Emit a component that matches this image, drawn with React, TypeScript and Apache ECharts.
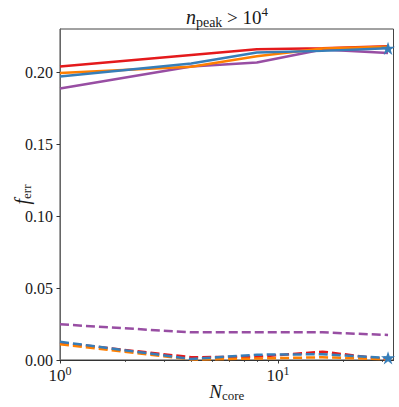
import React, { useEffect, useRef } from 'react';
import * as echarts from 'echarts';

// N_core values (x)
const cores = [1, 4, 8, 16, 32];

// solid lines (upper group)
const solidPurple = [0.1887, 0.204, 0.2067, 0.2157, 0.2134];
const solidRed = [0.204, 0.212, 0.216, 0.2167, 0.218];
const solidOrange = [0.1995, 0.2037, 0.211, 0.2164, 0.2176];
const solidBlue = [0.197, 0.206, 0.2137, 0.2148, 0.2166];

// dashed lines (lower group)
const dashPurple = [0.0248, 0.0192, 0.0192, 0.0192, 0.0174];
const dashRed = [0.012, 0.0019, 0.0023, 0.0058, 0.0003];
const dashOrange = [0.011, 0.0003, 0.001, 0.0019, 0.0005];
const dashBlue = [0.0127, 0.0007, 0.0037, 0.004, 0.0015];

// ticks
const yTicks = [0, 0.05, 0.1, 0.15, 0.2];
const xMajorTicks = [1, 10];
const xMinorTicks = [2, 3, 4, 5, 6, 7, 8, 9, 20, 30];

const COLORS = {
  purple: '#984ea3',
  red: '#e41a1c',
  orange: '#ff7f00',
  blue: '#377eb8',
};

const STAR =
  'path://M50,0 L61.2,34.5 L97.6,34.5 L68.2,55.9 L79.4,90.5 L50,69.1 L20.6,90.5 L31.8,55.9 L2.4,34.5 L38.8,34.5 Z';

const FONT = "'Liberation Serif', serif";
const TXT = '#1a1a1a';

function mk(values: number[], color: string, dashed: boolean, star: boolean) {
  const last = values.length - 1;
  return {
    type: 'line',
    xAxisIndex: 0,
    yAxisIndex: 0,
    data: cores.map((c, i) => [c, values[i]]),
    lineStyle: { color, width: 2.5, type: dashed ? [9, 4] : 'solid', cap: 'butt' },
    itemStyle: { color },
    showSymbol: star,
    symbol: (_v: any, p: any) => (star && p.dataIndex === last ? STAR : 'none'),
    symbolSize: 14,
    symbolKeepAspect: true,
    emphasis: { disabled: true },
    silent: true,
    clip: true,
    z: 3,
  };
}

export default function App() {
  const ref = useRef<HTMLDivElement>(null);
  useEffect(() => {
    if (!ref.current) return;
    const chart = echarts.init(ref.current, undefined, { renderer: 'svg' });
    const xMin = 1;
    const xMax = 33.9;
    const option: any = {
      animation: false,
      backgroundColor: '#ffffff',
      grid: {
        left: 60,
        top: 29,
        right: 5.5,
        bottom: 47,
        containLabel: false,
        outerBoundsMode: 'none',
        show: true,
        borderColor: '#444',
        borderWidth: 1,
        backgroundColor: 'transparent',
      },
      graphic: [
        {
          type: 'text',
          x: 227,
          y: 17,
          style: {
            text: '{i|n}{sub|peak}{r| > 10}{sup|4}',
            align: 'center',
            verticalAlign: 'middle',
            rich: {
              i: { fontFamily: FONT, fontStyle: 'italic', fontSize: 20, lineHeight: 24, fill: TXT, color: TXT },
              sub: { fontFamily: FONT, fontSize: 14, lineHeight: 14, verticalAlign: 'bottom', fill: TXT, color: TXT },
              r: { fontFamily: FONT, fontSize: 19, lineHeight: 24, fill: TXT, color: TXT },
              sup: { fontFamily: FONT, fontSize: 13, lineHeight: 13, verticalAlign: 'top', fill: TXT, color: TXT },
            },
          },
        },
      ],
      xAxis: [
        {
          type: 'log',
          logBase: 10,
          min: xMin,
          max: xMax,
          position: 'bottom',
          axisLine: { show: true, lineStyle: { color: '#333', width: 1 } },
          axisTick: { show: true, customValues: xMajorTicks, length: 3.5, lineStyle: { color: '#333', width: 1 } },
          axisLabel: {
            customValues: xMajorTicks,
            margin: 5,
            fontFamily: FONT,
            formatter: (v: number) => `{b|10}{s|${Math.round(Math.log10(v))}}`,
            rich: {
              b: { fontFamily: FONT, fontSize: 17, lineHeight: 20, color: TXT },
              s: { fontFamily: FONT, fontSize: 12, lineHeight: 12, verticalAlign: 'top', color: TXT },
            },
          },
          splitLine: { show: false },
          minorTick: { show: false },
          name: '{i|N}{sub|core}',
          nameLocation: 'middle',
          nameGap: 20,
          nameMoveOverlap: false,
          nameTextStyle: {
            fontFamily: FONT,
            rich: {
              i: { fontFamily: FONT, fontStyle: 'italic', fontSize: 19, lineHeight: 22, color: TXT },
              sub: { fontFamily: FONT, fontSize: 13, lineHeight: 13, verticalAlign: 'bottom', color: TXT },
            },
          },
        },
        {
          type: 'log',
          logBase: 10,
          min: xMin,
          max: xMax,
          position: 'bottom',
          axisLine: { show: false },
          axisTick: { show: true, customValues: xMinorTicks, length: 2, lineStyle: { color: '#333', width: 0.8 } },
          axisLabel: { show: false },
          splitLine: { show: false },
        },
      ],
      yAxis: [
        {
          type: 'value',
          min: 0,
          max: 0.23,
          interval: 0.05,
          position: 'left',
          axisLine: { show: true, lineStyle: { color: '#666', width: 1 } },
          axisTick: { show: true, customValues: yTicks, length: 3.5, lineStyle: { color: '#333', width: 1 } },
          axisLabel: {
            customValues: yTicks,
            margin: 7,
            formatter: (v: number) => `{n|${v.toFixed(2)}}`,
            fontFamily: FONT,
            fontSize: 16,
            color: TXT,
            rich: {
              n: { fontFamily: FONT, fontSize: 16, color: TXT },
            },
          },
          splitLine: { show: false },
          name: '{i|f}{sub|err}',
          nameLocation: 'middle',
          nameRotate: 90,
          nameGap: 27,
          nameMoveOverlap: false,
          nameTextStyle: {
            fontFamily: FONT,
            rich: {
              i: { fontFamily: FONT, fontStyle: 'italic', fontSize: 20, lineHeight: 22, color: TXT },
              sub: { fontFamily: FONT, fontSize: 13, lineHeight: 13, verticalAlign: 'bottom', color: TXT },
            },
          },
        },
      ],
      series: [
        mk(solidPurple, COLORS.purple, false, false),
        mk(solidRed, COLORS.red, false, false),
        mk(solidOrange, COLORS.orange, false, false),
        mk(solidBlue, COLORS.blue, false, true),
        mk(dashPurple, COLORS.purple, true, false),
        mk(dashRed, COLORS.red, true, false),
        mk(dashOrange, COLORS.orange, true, false),
        mk(dashBlue, COLORS.blue, true, true),
      ],
    };
    chart.setOption(option);
    return () => chart.dispose();
  }, []);
  return (
    <div
      ref={ref}
      style={{ position: 'fixed', left: 0, top: 0, width: 399, height: 407, background: '#fff' }}
    />
  );
}
